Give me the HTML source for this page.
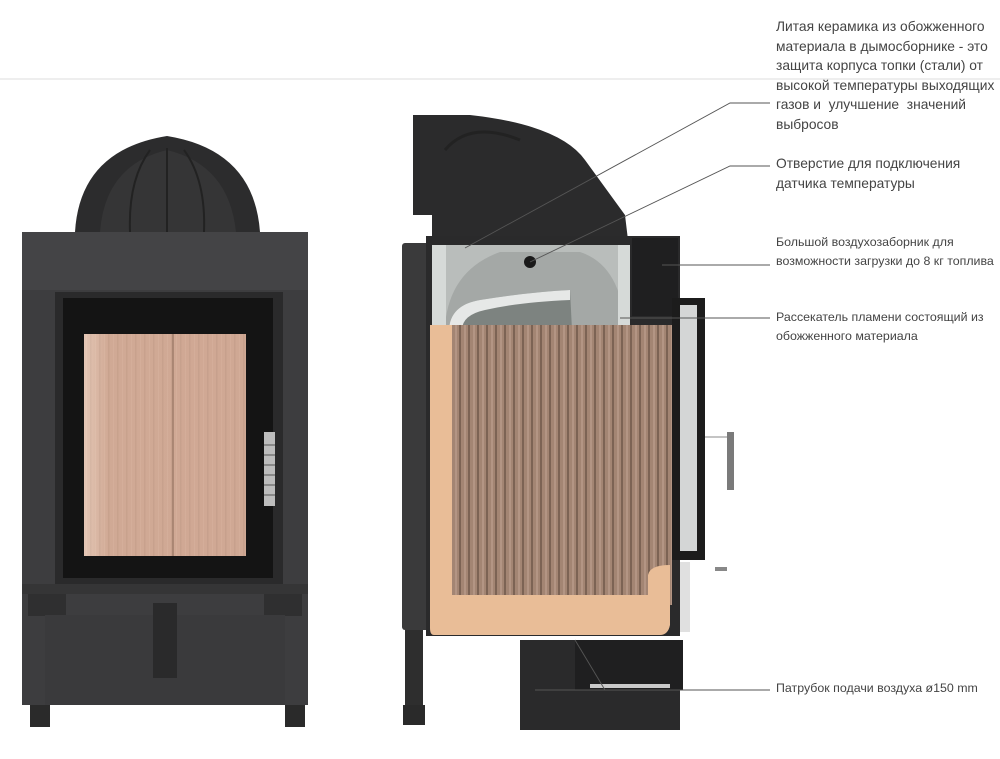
<!DOCTYPE html>
<html><head><meta charset="utf-8"><style>
html,body{margin:0;padding:0;background:#fff;}
body{width:1000px;height:759px;position:relative;overflow:hidden;font-family:"Liberation Sans",sans-serif;color:#444;}
.t{position:absolute;left:776px;white-space:nowrap;}
.a{font-size:13.8px;line-height:19.5px;}
.b{font-size:12.4px;line-height:19px;}
</style></head><body>
<svg width="1000" height="759" style="position:absolute;left:0;top:0">
<defs>
<pattern id="fl" width="9" height="10" patternUnits="userSpaceOnUse"><rect width="9" height="10" fill="#a38573"/><rect x="0" width="2" height="10" fill="#7c6354"/><rect x="5" width="2" height="10" fill="#b39584"/></pattern>
<pattern id="fl2" width="9" height="10" patternUnits="userSpaceOnUse"><rect width="9" height="10" fill="#d2ab97"/><rect x="0" width="1.5" height="10" fill="#bf9a86"/><rect x="5" width="1" height="10" fill="#dbb6a2"/></pattern>
<linearGradient id="gl" x1="0" x2="1"><stop offset="0" stop-color="#f2dccd"/><stop offset=".15" stop-color="#cfa893"/><stop offset="1" stop-color="#cda592"/></linearGradient>
</defs>
<line x1="0" y1="79" x2="1000" y2="79" stroke="#dcdcdc" stroke-width="1"/>
<!-- LEFT -->
<path d="M75 232 Q80 150 167 136 Q254 150 260 232Z" fill="#2c2c2d"/>
<path d="M100 232 Q105 165 167 150 Q229 165 236 232Z" fill="#353536"/>
<g stroke="#222" stroke-width="2" fill="none"><path d="M130 232 Q128 180 150 150"/><path d="M167 232 V148"/><path d="M204 232 Q206 180 184 150"/></g>
<rect x="22" y="232" width="286" height="473" fill="#3d3d3f"/>
<rect x="22" y="232" width="286" height="58" fill="#444446"/>
<rect x="55" y="292" width="228" height="292" fill="#2a2a2b"/>
<rect x="63" y="298" width="210" height="280" fill="#141414"/>
<rect x="84" y="334" width="162" height="222" fill="url(#fl2)"/>
<rect x="84" y="334" width="162" height="222" fill="url(#gl)" opacity=".55"/>
<line x1="173" y1="334" x2="173" y2="556" stroke="#a07d6b" stroke-width="1.5"/>
<rect x="264" y="432" width="11" height="74" fill="#bdbdbd"/>
<g stroke="#555" stroke-width="1"><line x1="264" y1="445" x2="275" y2="445"/><line x1="264" y1="455" x2="275" y2="455"/><line x1="264" y1="465" x2="275" y2="465"/><line x1="264" y1="475" x2="275" y2="475"/><line x1="264" y1="485" x2="275" y2="485"/><line x1="264" y1="495" x2="275" y2="495"/></g>
<rect x="22" y="584" width="286" height="10" fill="#353536"/>
<rect x="28" y="594" width="38" height="22" fill="#2f2f30"/>
<rect x="264" y="594" width="38" height="22" fill="#2f2f30"/>
<rect x="45" y="615" width="240" height="90" fill="#3a3a3c"/>
<rect x="153" y="603" width="24" height="75" fill="#2a2a2b"/>
<rect x="30" y="705" width="20" height="22" fill="#2a2a2a"/>
<rect x="285" y="705" width="20" height="22" fill="#2a2a2a"/>
<!-- RIGHT -->
<path d="M413 115 L470 115 Q560 125 585 160 L625 215 L628 240 L432 240 L432 215 L413 215Z" fill="#2b2b2c"/>
<path d="M445 150 Q470 120 520 140" stroke="#222" stroke-width="3" fill="none"/>
<rect x="402" y="243" width="28" height="387" rx="3" fill="#3a3a3b"/>
<rect x="405" y="630" width="18" height="80" fill="#2e2e2e"/>
<rect x="403" y="705" width="22" height="20" fill="#2a2a2a"/>
<rect x="426" y="236" width="254" height="400" fill="#2a2a2b"/>
<rect x="432" y="245" width="198" height="80" fill="#b9bdbb"/>
<path d="M445 325 Q450 270 500 252 L580 252 Q620 265 625 325Z" fill="#a4a8a6"/>
<rect x="432" y="245" width="14" height="80" fill="#d6dad8"/>
<rect x="618" y="245" width="12" height="80" fill="#d6dad8"/>
<path d="M449 330 Q450 305 480 300 Q530 292 570 290 L572 330Z" fill="#7d8380"/>
<path d="M449 330 Q450 305 480 300 Q530 292 570 290 L570 300 Q520 302 485 310 Q462 315 462 330Z" fill="#e6e8e7"/>
<circle cx="530" cy="262" r="6" fill="#1a1a1a"/>
<rect x="632" y="238" width="46" height="78" fill="#1f1f20"/>
<rect x="452" y="325" width="220" height="280" fill="url(#fl)"/>
<path d="M430 325 H452 V595 H648 V575 Q650 565 670 565 V625 Q668 635 660 635 H434 Q430 635 430 628Z" fill="#e9bd97"/>
<rect x="672" y="298" width="33" height="262" fill="#1c1c1c"/>
<rect x="680" y="305" width="17" height="246" fill="#d4d6d6"/>
<rect x="727" y="432" width="7" height="58" fill="#7a7a7a"/>
<line x1="705" y1="437" x2="727" y2="437" stroke="#888"/>
<rect x="715" y="567" width="12" height="4" fill="#888"/>
<rect x="680" y="562" width="10" height="70" fill="#e0e0e0"/>
<rect x="520" y="640" width="160" height="90" fill="#2a2a2b"/>
<rect x="575" y="640" width="108" height="50" fill="#1f1f20"/>
<rect x="590" y="684" width="80" height="4" fill="#c9c9c9"/>
<!-- leaders -->
<g stroke="#555" stroke-width="0.9" fill="none">
<polyline points="770,103 730,103 465,248"/>
<polyline points="770,166 730,166 530,262"/>
<line x1="662" y1="265" x2="770" y2="265"/>
<line x1="620" y1="318" x2="770" y2="318"/>
<polyline points="770,690 672,690 605,690 575,640"/>
<line x1="535" y1="690" x2="605" y2="690"/>
</g>
</svg>
<div class="t a" style="top:17px">Литая керамика из обожженного<br>материала в дымосборнике - это<br>защита корпуса топки (стали) от<br>высокой температуры выходящих<br>газов и &nbsp;улучшение &nbsp;значений<br>выбросов</div>
<div class="t a" style="top:154px">Отверстие для подключения<br>датчика температуры</div>
<div class="t b" style="top:233px">Большой воздухозаборник для<br>возможности загрузки до 8 кг топлива</div>
<div class="t b" style="top:308px">Рассекатель пламени состоящий из<br>обожженного материала</div>
<div class="t b" style="top:679px">Патрубок подачи воздуха ø150 mm</div>
</body></html>
